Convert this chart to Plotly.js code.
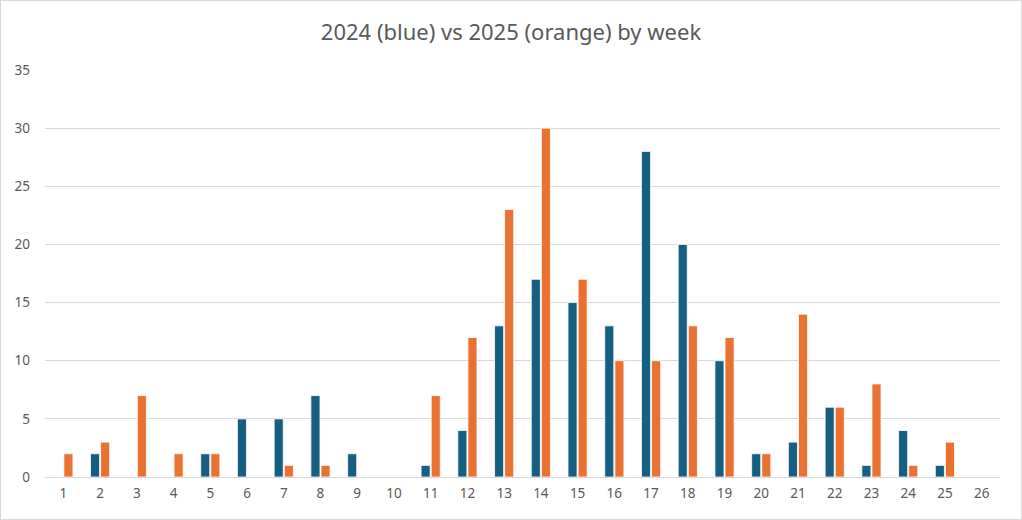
<!DOCTYPE html>
<html>
<head>
<meta charset="utf-8">
<script src="https://cdn.plot.ly/plotly-3.0.1.min.js"></script>
<style>
  html, body { margin: 0; padding: 0; background: #fff; }
  #chart { width: 1020px; height: 518px; border: 1px solid #d9d9d9; }
</style>
</head>
<body>
<div id="chart"></div>
<script>
const weeks = ["1","2","3","4","5","6","7","8","9","10","11","12","13","14","15","16","17","18","19","20","21","22","23","24","25","26"];
const values2024 = [0,2,0,0,2,5,5,7,2,0,1,4,13,17,15,13,28,20,10,2,3,6,1,4,1,0];
const values2025 = [2,3,7,2,2,0,1,1,0,0,7,12,23,30,17,10,10,13,12,2,14,6,8,1,3,0];

const traces = [
  { type: 'bar', name: '2024', x: weeks, y: values2024,
    marker: { color: '#156082', line: { color: '#ffffff', width: 0.8 } } },
  { type: 'bar', name: '2025', x: weeks, y: values2025,
    marker: { color: '#E97132', line: { color: '#ffffff', width: 0.8 } } }
];

const layout = {
  width: 1020, height: 518,
  margin: { l: 44, r: 21, t: 69, b: 42 },
  paper_bgcolor: '#ffffff', plot_bgcolor: '#ffffff',
  font: { family: 'Noto Sans, Open Sans, sans-serif', color: '#595959', size: 13 },
  title: { text: '2024 (blue) vs 2025 (orange) by week', x: 0.5, xanchor: 'center',
           y: 1 - 31/518, yref: 'container', yanchor: 'middle',
           font: { size: 22, color: '#595959' } },
  showlegend: false,
  barmode: 'group', bargap: 0.45, bargroupgap: 0.1,
  xaxis: { type: 'category', showgrid: false, zeroline: false, showline: false,
           ticks: '', ticklabelstandoff: 6, tickfont: { size: 13.5, color: '#595959' } },
  yaxis: { range: [0, 35], dtick: 5, showgrid: true, gridcolor: '#d9d9d9', gridwidth: 1,
           zeroline: true, zerolinecolor: '#d9d9d9', zerolinewidth: 1,
           showline: false, ticks: '', ticklabelstandoff: 14,
           tickfont: { size: 13.5, color: '#595959' } }
};

Plotly.newPlot('chart', traces, layout, { displayModeBar: false, staticPlot: true });
</script>
</body>
</html>
